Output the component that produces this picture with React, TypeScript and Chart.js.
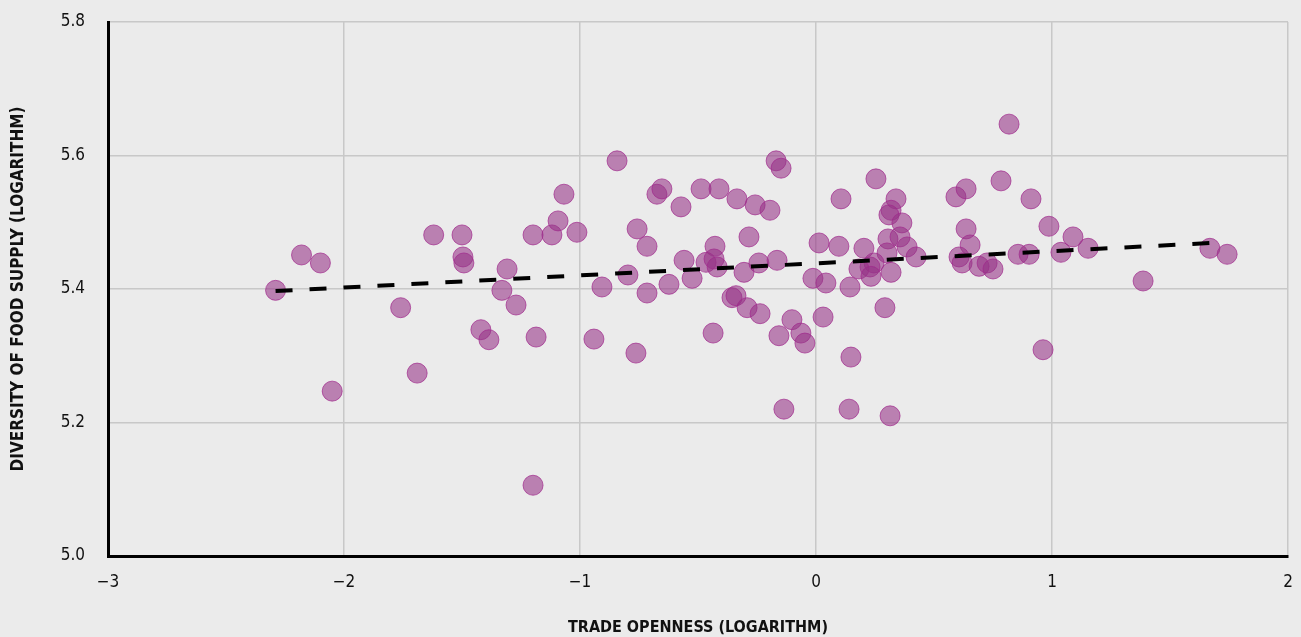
import React, { useEffect, useRef } from "react";
import { Chart, registerables } from "chart.js";

Chart.register(...registerables);

const tradeOpenness = [
  -2.29, -2.18, -2.10, -2.05, -1.76, -1.69, -1.62, -1.50, -1.496, -1.492,
  -1.42, -1.386, -1.331, -1.309, -1.271, -1.199, -1.199, -1.186, -1.119, -1.093,
  -1.068, -1.013,
  -0.843, -0.674, -0.653, -0.487, -0.411, -0.572, -0.335, -0.258, -0.195, -0.169,
  -0.148, -0.758, -0.716, -0.284, -0.428, -0.559, -0.466, -0.432, -0.419, -0.525,
  -0.305, -0.242, -0.165, -0.797, -0.907, -0.716, -0.623, -0.356, -0.339, -0.292,
  -0.237, -0.102, -0.157, -0.064, -0.047, -0.941, -0.763, -0.436, -0.136,
  -0.013, 0.013, 0.097, 0.030, 0.042, 0.144, 0.106, 0.148, 0.140, 0.254,
  0.339, 0.318, 0.309, 0.364, 0.203, 0.305, 0.356, 0.386, 0.424, 0.301,
  0.246, 0.229, 0.182, 0.233, 0.318, 0.292, 0.314, 0.593, 0.636, 0.784,
  0.911, 0.987, 1.089, 0.636, 0.653, 0.606, 0.619, 0.691, 0.725, 0.750,
  0.856, 0.903, 1.038, 1.153, 0.818, 0.962, 1.386, 1.669, 1.742,
];

const foodDiversity = [
  5.398, 5.451, 5.439, 5.247, 5.372, 5.274, 5.481, 5.481, 5.448, 5.439,
  5.339, 5.324, 5.398, 5.430, 5.376, 5.106, 5.481, 5.328, 5.481, 5.502,
  5.542, 5.485,
  5.592, 5.542, 5.550, 5.550, 5.550, 5.523, 5.535, 5.526, 5.518, 5.592,
  5.581, 5.490, 5.464, 5.478, 5.464, 5.443, 5.440, 5.445, 5.433, 5.416,
  5.425, 5.439, 5.443, 5.421, 5.403, 5.394, 5.407, 5.387, 5.390, 5.372,
  5.363, 5.354, 5.330, 5.334, 5.319, 5.325, 5.304, 5.334, 5.220,
  5.416, 5.469, 5.464, 5.358, 5.409, 5.403, 5.535, 5.298, 5.220, 5.565,
  5.535, 5.518, 5.511, 5.499, 5.461, 5.475, 5.478, 5.463, 5.448, 5.454,
  5.439, 5.433, 5.430, 5.419, 5.425, 5.372, 5.210, 5.538, 5.550, 5.562,
  5.535, 5.494, 5.478, 5.490, 5.466, 5.448, 5.439, 5.434, 5.439, 5.430,
  5.452, 5.452, 5.455, 5.461, 5.647, 5.309, 5.412, 5.461, 5.452,
];

const trendX = [-2.29, 1.68];
const trendY = [5.397, 5.469];

const xTicks = [-3, -2, -1, 0, 1, 2];
const yTicks = [5.0, 5.2, 5.4, 5.6, 5.8];

const xTitle = "TRADE OPENNESS (LOGARITHM)";
const yTitle = "DIVERSITY OF FOOD SUPPLY (LOGARITHM)";

const FONT = "'DejaVu Sans Condensed', 'DejaVu Sans', sans-serif";

export default function App() {
  const ref = useRef<HTMLCanvasElement | null>(null);

  useEffect(() => {
    if (!ref.current) return;
    const points = tradeOpenness.map((x, i) => ({ x, y: foodDiversity[i] }));
    const trend = trendX.map((x, i) => ({ x, y: trendY[i] }));
    const chart = new Chart(ref.current, {
      type: "scatter",
      data: {
        datasets: [
          {
            label: "Trend",
            data: trend,
            showLine: true,
            borderColor: "#000000",
            borderWidth: 4,
            borderDash: [17, 17],
            borderCapStyle: "butt",
            pointRadius: 0,
            pointHoverRadius: 0,
            fill: false,
          } as any,
          {
            label: "Countries",
            data: points,
            backgroundColor: "rgba(150, 50, 135, 0.58)",
            borderColor: "rgba(160, 40, 140, 0.7)",
            borderWidth: 1,
            pointRadius: 10,
            pointHoverRadius: 10,
          },
        ],
      },
      options: {
        animation: false,
        responsive: false,
        maintainAspectRatio: false,
        layout: { padding: { top: 22, right: 13, left: 0, bottom: 0 } },
        plugins: {
          legend: { display: false },
          tooltip: { enabled: false },
        },
        scales: {
          x: {
            type: "linear",
            min: -3,
            max: 2,
            afterBuildTicks: (s: any) => {
              s.ticks = xTicks.map((v) => ({ value: v }));
            },
            afterFit: (s: any) => {
              s.height = 81;
              s.paddingLeft = 0;
              s.paddingRight = 0;
            },
            ticks: {
              padding: 16,
              color: "#111",
              font: { family: FONT, size: 17 },
              callback: (v: any) => (Number(v) < 0 ? "\u2212" + Math.abs(Number(v)) : String(v)),
            },
            grid: { color: "#c8c8c8", lineWidth: 1.5, drawTicks: false },
            border: { color: "#000", width: 3 },
            title: {
              display: true,
              text: xTitle,
              color: "#111",
              font: { family: FONT, size: 16, weight: "bold" },
              padding: { top: 0, bottom: 0 },
            },
          },
          y: {
            type: "linear",
            min: 5.0,
            max: 5.8,
            afterBuildTicks: (s: any) => {
              s.ticks = yTicks.map((v) => ({ value: v }));
            },
            afterFit: (s: any) => {
              s.width = 108;
              s.paddingTop = 0;
              s.paddingBottom = 0;
            },
            ticks: {
              padding: 23,
              color: "#111",
              font: { family: FONT, size: 17 },
              callback: (v: any) => Number(v).toFixed(1),
            },
            grid: { color: "#c8c8c8", lineWidth: 1.5, drawTicks: false },
            border: { color: "#000", width: 3 },
            title: {
              display: true,
              text: yTitle,
              color: "#111",
              font: { family: FONT, size: 17, weight: "bold" },
              padding: { top: 8, bottom: 0 },
            },
          },
        },
      },
    });
    return () => chart.destroy();
  }, []);

  return (
    <div
      style={{
        position: "absolute",
        left: 0,
        top: 0,
        width: 1301,
        height: 637,
        background: "#ebebeb",
      }}
    >
      <canvas ref={ref} width={1301} height={637} style={{ display: "block" }} />
    </div>
  );
}
